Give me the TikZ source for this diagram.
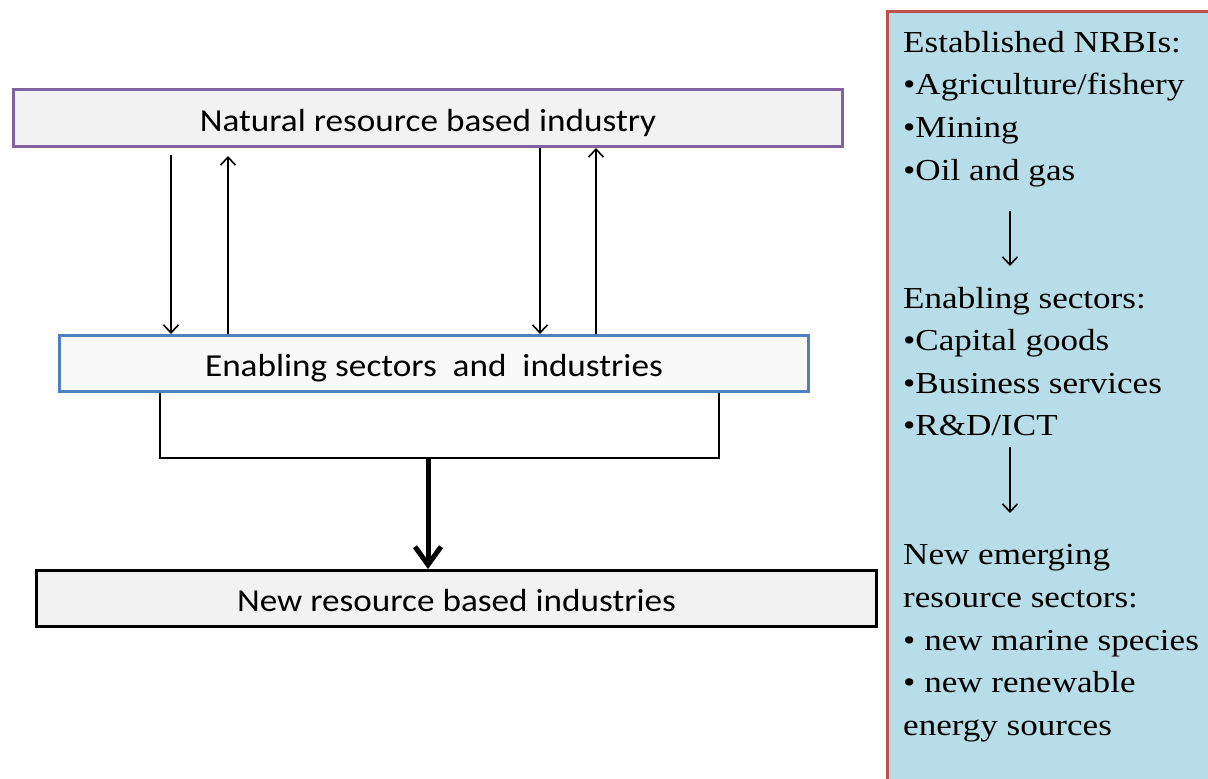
\documentclass[tikz,border=0pt]{standalone}
\usepackage{fontspec}
\setmainfont{Liberation Serif}
\newfontfamily\calib[FakeStretch=1.1]{Carlito}
\newfontfamily\tms[FakeStretch=1.15]{Liberation Serif}
\usetikzlibrary{arrows.meta}
\definecolor{cpurple}{HTML}{8064A2}
\definecolor{cblue}{HTML}{4F81BD}
\definecolor{cred}{HTML}{C0504D}
\definecolor{cpanel}{HTML}{B7DDE8}
\definecolor{cgray}{HTML}{F2F2F2}
\definecolor{cgray2}{HTML}{F9F9F9}
\tikzset{
  box/.style={rectangle, line width=3pt, inner sep=0pt, text height=30pt, text depth=4pt, font=\calib\fontsize{32}{36}\selectfont},
  arr/.style={line width=1.6pt, -{Straight Barb[length=8pt,width=15pt,line width=1.6pt]}},
  bigarr/.style={line width=5pt, -{Straight Barb[length=18pt,width=26pt,line width=5pt]}},
  plain/.style={line width=1.8pt},
  ptxt/.style={anchor=base west, inner sep=0pt, font=\tms\fontsize{30.5}{36}\selectfont},
}
\begin{document}
\begin{tikzpicture}[x=1pt,y=-1pt]
\useasboundingbox (0,0) rectangle (1208,779);
% right panel
\draw[cred, fill=cpanel, line width=3pt] (887,11) rectangle (1220,800);
% boxes
\node[box, draw=cpurple, fill=cgray, minimum width=829pt, minimum height=57pt] (nat) at (428,118) {Natural resource based industry};
\node[box, draw=cblue, fill=cgray2, minimum width=749pt, minimum height=56pt] (ens) at (434,363.5) {Enabling sectors\ \ and\ \ industries};
\node[box, draw=black, fill=cgray, minimum width=840pt, minimum height=56pt] (nrb) at (456.5,598.5) {New resource based industries};
% arrows between nat and ens
\coordinate (a1) at (171,155);
\coordinate (a2) at (228,156);
\draw[arr] (a1) -- (a1 |- ens.north);
\draw[arr] (a2 |- ens.north) -- (a2);
\draw[arr] (540,0 |- nat.south) -- (540,0 |- ens.north);
\draw[arr] (596,0 |- ens.north) -- (596,0 |- nat.south);
% bracket
\coordinate (b1) at (160,458);
\coordinate (b2) at (719,458);
\coordinate (bm) at (428,458);
\draw[plain] (b1 |- ens.south) -- (b1) -- (b2) -- (b2 |- ens.south);
\draw[bigarr] (bm) -- (bm |- nrb.north);
% panel text
\node[ptxt] (t1) at (903,52) {Established NRBIs:};
\node[ptxt] (t2) at (903,94) {•Agriculture/fishery};
\node[ptxt] (t3) at (903,137) {•Mining};
\node[ptxt] (t4) at (903,180) {•Oil and gas};
\node[ptxt] (t5) at (903,308) {Enabling sectors:};
\node[ptxt] (t6) at (903,350) {•Capital goods};
\node[ptxt] (t7) at (903,393) {•Business services};
\node[ptxt] (t8) at (903,435) {•R\&D/ICT};
\node[ptxt] (t9) at (903,564) {New emerging};
\node[ptxt] (t10) at (903,607) {resource sectors:};
\node[ptxt] (t11) at (903,650) {• new marine species};
\node[ptxt] (t12) at (903,692) {• new renewable};
\node[ptxt] (t13) at (903,735) {energy sources};
\coordinate (p1) at (1010,211);
\coordinate (p2) at (1010,266);
\coordinate (p3) at (1010,447);
\coordinate (p4) at (1010,513);
\draw[arr] (p1) -- (p2);
\draw[arr] (p3) -- (p4);
\end{tikzpicture}
\end{document}
